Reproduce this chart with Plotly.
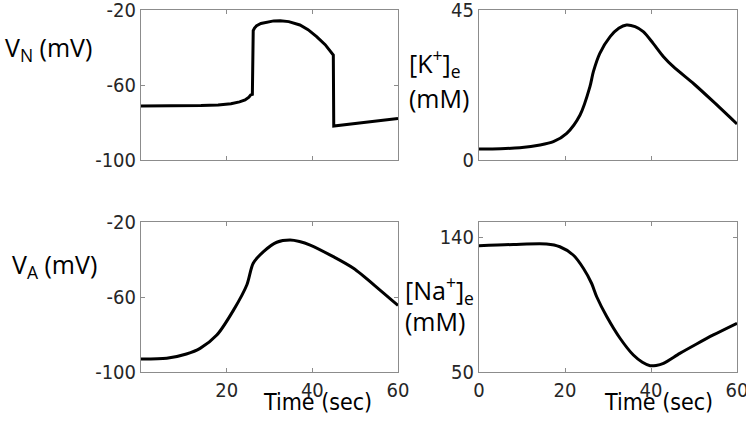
import plotly.graph_objects as go

# Data
t_vn = [0, 5, 10, 14, 18, 21, 23, 24.3, 25.2, 25.6, 26.0, 26.2, 26.5, 27.0, 28.0, 29.5, 31.0, 32.5, 34.5, 37.1, 39.0, 41.0, 43.0, 44.9, 45.0, 52.0, 60]
vn = [-71.2, -71.2, -71.1, -71.0, -70.7, -70.0, -69.0, -68.0, -66.5, -65.3, -65.0, -31.0, -29.6, -28.4, -27.2, -26.3, -25.8, -25.7, -26.2, -28.0, -30.5, -34.2, -38.5, -44.0, -81.9, -80.0, -77.8]

t_k = [0, 5, 9.5, 14.2, 17.3, 20.4, 23.5, 25.8, 26.6, 28.1, 30.5, 32.5, 34.3, 36.3, 38.2, 40.5, 42.9, 45.2, 50.0, 54.5, 60]
k = [3.3, 3.4, 3.7, 4.5, 5.5, 8.0, 13.5, 22.0, 26.5, 32.0, 37.0, 39.5, 40.5, 40.0, 38.5, 35.0, 31.0, 28.0, 22.8, 17.5, 10.8]

t_va = [0, 6, 10.6, 13.8, 17.7, 21.6, 24.7, 26.2, 28.6, 31.7, 34.8, 37.0, 39.5, 44.9, 49.6, 55.8, 60]
va = [-93.1, -92.7, -90.4, -87.4, -80.3, -67.0, -53.6, -42.0, -35.8, -30.8, -29.6, -30.4, -32.3, -38.5, -44.7, -56.3, -64.5]

t_na = [0, 8, 15.7, 18.8, 21.9, 24.3, 26.2, 27.4, 29.7, 32.8, 35.9, 38.0, 39.8, 41.2, 42.9, 46.7, 50.5, 54.5, 60]
na = [134.2, 135.0, 135.3, 133.5, 128.0, 119.0, 109.0, 100.0, 87.0, 72.5, 61.3, 56.5, 54.2, 54.4, 55.8, 62.4, 68.5, 74.7, 82.5]

xr = [0, 60]
x_tickvals = [0, 20, 40, 60]
x_ticktext_bl = ["", "20", "40", "60"]
x_ticktext_br = ["0", "20", "40", "60"]
vn_ticks = [-20, -60, -100]
vn_ticktext = ["-20", "-60", "-100"]
k_ticks = [0, 45]
va_ticks = [-20, -60, -100]
va_ticktext = ["-20", "-60", "-100"]
na_ticks = [50, 140]

narrow = "DejaVu Sans Condensed, Liberation Sans Narrow, sans-serif"
tickfont = dict(family=narrow, size=20, color="#262626")
labfont = dict(family="Open Sans, Noto Sans, sans-serif", size=25, color="#000000")

fig = go.Figure()
line = dict(color="black", width=3)
sline = dict(color="black", width=3, shape="spline", smoothing=0.8)
fig.add_trace(go.Scatter(x=t_vn, y=vn, mode="lines", line=line, xaxis="x", yaxis="y"))
fig.add_trace(go.Scatter(x=t_k, y=k, mode="lines", line=sline, xaxis="x2", yaxis="y2"))
fig.add_trace(go.Scatter(x=t_va, y=va, mode="lines", line=sline, xaxis="x3", yaxis="y3"))
fig.add_trace(go.Scatter(x=t_na, y=na, mode="lines", line=sline, xaxis="x4", yaxis="y4"))

W, H = 746, 421
xl = [141 / W, 398 / W]
xrd = [479 / W, 737 / W]
yt = [1 - 160 / H, 1 - 10 / H]
yb = [1 - 372 / H, 1 - 222 / H]

axcommon = dict(showline=True, linecolor="#8c8c8c", linewidth=1, mirror="ticks", ticks="inside",
                ticklen=4, tickcolor="#8c8c8c", showgrid=False, zeroline=False, tickfont=tickfont,
                automargin=False, ticklabeloverflow="allow")

fig.update_layout(
    width=W, height=H, margin=dict(l=0, r=0, t=0, b=0),
    paper_bgcolor="white", plot_bgcolor="white", showlegend=False,
    xaxis=dict(domain=xl, range=xr, anchor="y", tickvals=x_tickvals, showticklabels=False, **axcommon),
    yaxis=dict(domain=yt, range=[-100, -20], anchor="x", tickvals=vn_ticks, ticktext=vn_ticktext, **axcommon),
    xaxis2=dict(domain=xrd, range=xr, anchor="y2", tickvals=x_tickvals, showticklabels=False, **axcommon),
    yaxis2=dict(domain=yt, range=[0, 45], anchor="x2", tickvals=k_ticks, **axcommon),
    xaxis3=dict(domain=xl, range=xr, anchor="y3", tickvals=x_tickvals, ticktext=x_ticktext_bl, **axcommon),
    yaxis3=dict(domain=yb, range=[-100, -20], anchor="x3", tickvals=va_ticks, ticktext=va_ticktext, **axcommon),
    xaxis4=dict(domain=xrd, range=xr, anchor="y4", tickvals=x_tickvals, ticktext=x_ticktext_br, **axcommon),
    yaxis4=dict(domain=yb, range=[50, 150], anchor="x4", tickvals=na_ticks, **axcommon),
)

def ann(text, x, y, font, xanchor="center"):
    fig.add_annotation(text=text, x=x / W, y=1 - y / H, xref="paper", yref="paper",
                       showarrow=False, font=font, xanchor=xanchor, yanchor="middle")

ann("V<sub>N</sub> (mV)", 48, 48, labfont)
ann("[K<sup>+</sup>]<sub>e</sub>", 407, 63, labfont, xanchor="left")
ann("(mM)", 407, 98, labfont, xanchor="left")
ann("V<sub>A</sub> (mV)", 54, 265, labfont)
ann("[Na<sup>+</sup>]<sub>e</sub>", 403, 290, labfont, xanchor="left")
ann("(mM)", 403, 321, labfont, xanchor="left")
timefont = dict(family=narrow, size=23, color="#000000")
ann("Time (sec)", 317, 402, timefont)
ann("Time (sec)", 658, 402, timefont)

fig.write_html("out.html", config={"displayModeBar": False},
               post_script="document.body.style.margin='0';")
